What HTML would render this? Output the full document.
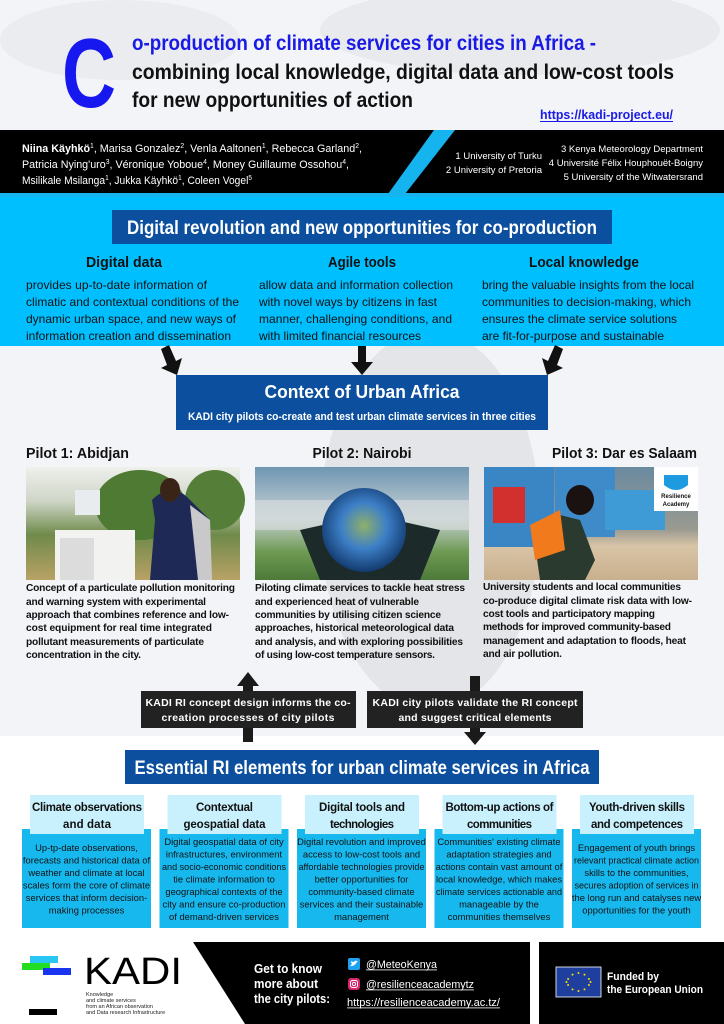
<!DOCTYPE html>
<html><head><meta charset="utf-8"><style>
html,body{margin:0;padding:0;background:#fff}
svg{display:block}
text{font-family:"Liberation Sans",sans-serif}
.h{font-weight:bold}
</style></head><body>
<svg width="724" height="1024" viewBox="0 0 724 1024" xmlns="http://www.w3.org/2000/svg">
<defs>
<linearGradient id="p1" x1="0" y1="0" x2="0" y2="1"><stop offset="0" stop-color="#eef0ec"/><stop offset="0.3" stop-color="#cfd6c8"/><stop offset="0.6" stop-color="#6f8a4a"/><stop offset="1" stop-color="#b9a266"/></linearGradient>
<linearGradient id="p2" x1="0" y1="0" x2="0" y2="1"><stop offset="0" stop-color="#6f96b2"/><stop offset="0.45" stop-color="#c8d2d4"/><stop offset="0.75" stop-color="#6e9a54"/><stop offset="1" stop-color="#4e7a3a"/></linearGradient>
<linearGradient id="p3" x1="0" y1="0" x2="0" y2="1"><stop offset="0" stop-color="#6a8aa0"/><stop offset="0.55" stop-color="#9a9a90"/><stop offset="0.7" stop-color="#d8c4a6"/><stop offset="1" stop-color="#c9b08e"/></linearGradient>
<radialGradient id="ball" cx="0.5" cy="0.45" r="0.55"><stop offset="0" stop-color="#8fb06a"/><stop offset="0.5" stop-color="#3d7fc7"/><stop offset="1" stop-color="#123a6e"/></radialGradient>
</defs>

<!-- background -->
<rect x="0" y="0" width="724" height="736" fill="#f3f4f7"/>
<ellipse cx="120" cy="40" rx="120" ry="40" fill="#ebecef"/>
<ellipse cx="520" cy="30" rx="200" ry="45" fill="#e9eaed"/>
<ellipse cx="430" cy="520" rx="110" ry="190" fill="#e4e5e8"/>
<rect x="0" y="736" width="724" height="288" fill="#fff"/>

<!-- Header -->
<text x="62" y="107" font-size="98" class="h" fill="#1717f0" textLength="54" lengthAdjust="spacingAndGlyphs">C</text>
<text x="132" y="50" font-size="21" class="h" fill="#1a1ae6" textLength="464" lengthAdjust="spacingAndGlyphs">o-production of climate services for cities in Africa -</text>
<text x="132" y="79" font-size="21" class="h" fill="#111" textLength="542" lengthAdjust="spacingAndGlyphs">combining local knowledge, digital data and low-cost tools</text>
<text x="132" y="107" font-size="21" class="h" fill="#111" textLength="281" lengthAdjust="spacingAndGlyphs">for new opportunities of action</text>
<text x="540" y="119" font-size="13" class="h" fill="#1a1ae6" textLength="133" lengthAdjust="spacingAndGlyphs">https://kadi-project.eu/</text>
<rect x="540" y="121" width="133" height="1" fill="#1a1ae6"/>

<!-- Authors band -->
<rect x="0" y="130" width="724" height="64" fill="#000"/>
<polygon points="434,130 455,130 405,194 388,194" fill="#16b4ef"/>
<rect x="0" y="193" width="724" height="4" fill="#16b4ef"/>
<text x="22" y="152" font-size="11" fill="#fff" textLength="340" lengthAdjust="spacingAndGlyphs"><tspan font-weight="bold">Niina Käyhkö</tspan><tspan font-size="7" dy="-4">1</tspan><tspan dy="4">, Marisa Gonzalez</tspan><tspan font-size="7" dy="-4">2</tspan><tspan dy="4">, Venla Aaltonen</tspan><tspan font-size="7" dy="-4">1</tspan><tspan dy="4">, Rebecca Garland</tspan><tspan font-size="7" dy="-4">2</tspan><tspan dy="4">,</tspan></text>
<text x="22" y="168" font-size="11" fill="#fff" textLength="327" lengthAdjust="spacingAndGlyphs">Patricia Nying'uro<tspan font-size="7" dy="-4">3</tspan><tspan dy="4">, Véronique Yoboue</tspan><tspan font-size="7" dy="-4">4</tspan><tspan dy="4">, Money Guillaume Ossohou</tspan><tspan font-size="7" dy="-4">4</tspan><tspan dy="4">,</tspan></text>
<text x="22" y="184" font-size="11" fill="#fff" textLength="230" lengthAdjust="spacingAndGlyphs">Msilikale Msilanga<tspan font-size="7" dy="-4">1</tspan><tspan dy="4">, Jukka Käyhkö</tspan><tspan font-size="7" dy="-4">1</tspan><tspan dy="4">, Coleen Vogel</tspan><tspan font-size="7" dy="-4">5</tspan></text>
<g font-size="9.5" fill="#fff" text-anchor="end">
<text x="542" y="159">1 University of Turku</text>
<text x="542" y="173">2 University of Pretoria</text>
<text x="703" y="152">3 Kenya Meteorology Department</text>
<text x="703" y="166">4 Université Félix Houphouët-Boigny</text>
<text x="703" y="180">5 University of the Witwatersrand</text>
</g>

<!-- Cyan section -->
<rect x="0" y="197" width="724" height="149" fill="#00bfff"/>
<rect x="112" y="210" width="500" height="34" fill="#0b4f9e"/>
<text x="362" y="234" font-size="19" class="h" fill="#fff" text-anchor="middle" textLength="470" lengthAdjust="spacingAndGlyphs">Digital revolution and new opportunities for co-production</text>
<g font-size="15" class="h" fill="#111" text-anchor="middle">
<text x="124" y="267" textLength="76" lengthAdjust="spacingAndGlyphs">Digital data</text>
<text x="362" y="267" textLength="68" lengthAdjust="spacingAndGlyphs">Agile tools</text>
<text x="584" y="267" textLength="110" lengthAdjust="spacingAndGlyphs">Local knowledge</text>
</g>
<g font-size="12" fill="#111" lengthAdjust="spacingAndGlyphs">
<text x="26" y="289" textLength="181">provides up-to-date information of</text>
<text x="26" y="306" textLength="213">climatic and contextual conditions of the</text>
<text x="26" y="323" textLength="210">dynamic urban space, and new ways of</text>
<text x="26" y="340" textLength="205">information creation and dissemination</text>
<text x="259" y="289" textLength="194">allow data and information collection</text>
<text x="259" y="306" textLength="178">with novel ways by citizens in fast</text>
<text x="259" y="323" textLength="193">manner, challenging conditions, and</text>
<text x="259" y="340" textLength="162">with limited financial resources</text>
<text x="482" y="289" textLength="212">bring the valuable insights from the local</text>
<text x="482" y="306" textLength="209">communities to decision-making, which</text>
<text x="482" y="323" textLength="195">ensures the climate service solutions</text>
<text x="482" y="340" textLength="182">are fit-for-purpose and sustainable</text>
</g>

<!-- arrows to context -->
<g fill="#111">
<polygon points="161,349 169,345 176,361 182,358 177,375 161,368 167,365"/>
<polygon points="358,346 366,346 366,362 373,362 362,375 351,362 358,362"/>
<polygon points="555,345 563,349 557,365 563,368 547,375 542,358 548,361"/>
</g>
<rect x="176" y="375" width="372" height="55" fill="#0b4f9e"/>
<text x="362" y="398" font-size="18" class="h" fill="#fff" text-anchor="middle" textLength="195" lengthAdjust="spacingAndGlyphs">Context of Urban Africa</text>
<text x="362" y="420" font-size="11" class="h" fill="#fff" text-anchor="middle" textLength="348" lengthAdjust="spacingAndGlyphs">KADI city pilots co-create and test urban climate services in three cities</text>

<!-- Pilots -->
<g font-size="15" class="h" fill="#111">
<text x="26" y="458" textLength="103" lengthAdjust="spacingAndGlyphs">Pilot 1: Abidjan</text>
<text x="362" y="458" text-anchor="middle" textLength="99" lengthAdjust="spacingAndGlyphs">Pilot 2: Nairobi</text>
<text x="697" y="458" text-anchor="end" textLength="145" lengthAdjust="spacingAndGlyphs">Pilot 3: Dar es Salaam</text>
</g>
<!-- photo 1 -->
<rect x="26" y="467" width="214" height="113" fill="url(#p1)"/>
<ellipse cx="140" cy="505" rx="45" ry="35" fill="#4f7a34"/>
<ellipse cx="215" cy="500" rx="30" ry="30" fill="#557f38"/>
<rect x="75" y="490" width="25" height="25" fill="#e8ecee"/>
<rect x="55" y="530" width="80" height="50" fill="#f2f2f0"/>
<rect x="60" y="538" width="34" height="42" fill="#dcdcdc"/>
<path d="M152 500 Q172 480 190 500 L210 520 L205 580 L150 580 L155 520 Z" fill="#1e2a55"/>
<path d="M190 505 L210 520 L212 580 L198 580 Z" fill="#c9c9cc"/>
<ellipse cx="170" cy="490" rx="10" ry="12" fill="#3a2418"/>
<!-- photo 2 -->
<rect x="255" y="467" width="214" height="113" fill="url(#p2)"/>
<rect x="255" y="500" width="214" height="30" fill="#d6dcdd" opacity="0.7"/>
<path d="M300 530 L345 520 L395 520 L440 530 L420 580 L320 580 Z" fill="#1d2a2a"/>
<circle cx="364" cy="530" r="42" fill="url(#ball)"/>
<!-- photo 3 -->
<rect x="484" y="467" width="214" height="113" fill="url(#p3)"/>
<rect x="484" y="467" width="70" height="80" fill="#3a86c4"/>
<rect x="493" y="487" width="32" height="36" fill="#d2302e"/>
<rect x="555" y="467" width="60" height="70" fill="#3f8ac8"/>
<rect x="605" y="490" width="60" height="40" fill="#3e9bd6"/>
<path d="M535 545 L560 515 L580 520 L595 560 L585 580 L540 580 Z" fill="#2b3a2e"/>
<path d="M530 525 L560 510 L565 550 L535 560 Z" fill="#f07a1c"/>
<ellipse cx="580" cy="500" rx="14" ry="15" fill="#1a1210"/>
<rect x="654" y="467" width="44" height="44" fill="#fff"/>
<path d="M664 475 h24 v10 q-12 10 -24 0 Z" fill="#1e9ae0"/>
<text x="676" y="498" font-size="6" class="h" fill="#111" text-anchor="middle">Resilience</text>
<text x="676" y="506" font-size="6" class="h" fill="#111" text-anchor="middle">Academy</text>

<g font-size="10.2" class="h" fill="#111" lengthAdjust="spacingAndGlyphs">
<text x="26" y="591" textLength="209">Concept of a particulate pollution monitoring</text>
<text x="26" y="605" textLength="180">and warning system with experimental</text>
<text x="26" y="618" textLength="203">approach that combines reference and low-</text>
<text x="26" y="631" textLength="186">cost equipment for real time integrated</text>
<text x="26" y="645" textLength="178">pollutant measurements of particulate</text>
<text x="26" y="658" textLength="115">concentration in the city.</text>
<text x="255" y="591" textLength="210">Piloting climate services to tackle heat stress</text>
<text x="255" y="605" textLength="164">and experienced heat of vulnerable</text>
<text x="255" y="618" textLength="186">communities by utilising citizen science</text>
<text x="255" y="631" textLength="199">approaches, historical meteorological data</text>
<text x="255" y="645" textLength="208">and analysis, and with exploring possibilities</text>
<text x="255" y="658" textLength="180">of using low-cost temperature sensors.</text>
<text x="483" y="590" textLength="198">University students and local communities</text>
<text x="483" y="604" textLength="209">co-produce digital climate risk data with low-</text>
<text x="483" y="617" textLength="172">cost tools and participatory mapping</text>
<text x="483" y="630" textLength="188">methods for improved community-based</text>
<text x="483" y="644" textLength="203">management and adaptation to floods, heat</text>
<text x="483" y="657" textLength="79">and air pollution.</text>
</g>

<!-- Feedback arrows -->
<g fill="#1a1a1a">
<rect x="243" y="684" width="10" height="58"/>
<polygon points="237,686 248,672 259,686"/>
<rect x="470" y="676" width="10" height="58"/>
<polygon points="464,732 486,732 475,745"/>
</g>
<rect x="141" y="691" width="215" height="37" fill="#222"/>
<rect x="367" y="691" width="216" height="37" fill="#222"/>
<g font-size="10.5" class="h" fill="#fff" text-anchor="middle" lengthAdjust="spacingAndGlyphs">
<text x="248" y="706" textLength="205">KADI RI concept design informs the co-</text>
<text x="248" y="721" textLength="173">creation processes of city pilots</text>
<text x="475" y="706" textLength="205">KADI city pilots validate the RI concept</text>
<text x="475" y="721" textLength="153">and suggest critical elements</text>
</g>

<!-- Essential -->
<rect x="125" y="750" width="474" height="34" fill="#0b4f9e"/>
<text x="362" y="774" font-size="19" class="h" fill="#fff" text-anchor="middle" textLength="455" lengthAdjust="spacingAndGlyphs">Essential RI elements for urban climate services in Africa</text>

<g>
<rect x="22" y="829" width="129" height="99" fill="#17b8ee"/>
<rect x="159.5" y="829" width="129" height="99" fill="#17b8ee"/>
<rect x="297" y="829" width="129" height="99" fill="#17b8ee"/>
<rect x="434.5" y="829" width="129" height="99" fill="#17b8ee"/>
<rect x="572" y="829" width="129" height="99" fill="#17b8ee"/>
<rect x="30" y="795" width="114" height="39" fill="#c9f1fd"/>
<rect x="167.5" y="795" width="114" height="39" fill="#c9f1fd"/>
<rect x="305" y="795" width="114" height="39" fill="#c9f1fd"/>
<rect x="442.5" y="795" width="114" height="39" fill="#c9f1fd"/>
<rect x="580" y="795" width="114" height="39" fill="#c9f1fd"/>
</g>
<g font-size="11.5" class="h" fill="#111" text-anchor="middle" lengthAdjust="spacingAndGlyphs">
<text x="87" y="811" textLength="110">Climate observations</text>
<text x="87" y="828" textLength="48">and data</text>
<text x="224.5" y="811" textLength="57">Contextual</text>
<text x="224.5" y="828" textLength="82">geospatial data</text>
<text x="362" y="811" textLength="86">Digital tools and</text>
<text x="362" y="828" textLength="64">technologies</text>
<text x="499.5" y="811" textLength="108">Bottom-up actions of</text>
<text x="499.5" y="828" textLength="65">communities</text>
<text x="637" y="811" textLength="96">Youth-driven skills</text>
<text x="637" y="828" textLength="92">and competences</text>
</g>
<g font-size="9.4" fill="#111" text-anchor="middle">
<text x="86.5" y="851">Up-tp-date observations,</text>
<text x="86.5" y="863.5">forecasts and historical data of</text>
<text x="86.5" y="876">weather and climate at local</text>
<text x="86.5" y="888.5">scales form the core of climate</text>
<text x="86.5" y="901">services that inform decision-</text>
<text x="86.5" y="913.5">making processes</text>

<text x="224" y="845">Digital geospatial data of city</text>
<text x="224" y="857.5">infrastructures, environment</text>
<text x="224" y="870" textLength="124" lengthAdjust="spacingAndGlyphs">and socio-economic conditions</text>
<text x="224" y="882.5">tie climate information to</text>
<text x="224" y="895">geographical contexts of the</text>
<text x="224" y="907.5">city and ensure co-production</text>
<text x="224" y="920">of demand-driven services</text>

<text x="361.5" y="845">Digital revolution and improved</text>
<text x="361.5" y="857.5">access to low-cost tools and</text>
<text x="361.5" y="870" textLength="126" lengthAdjust="spacingAndGlyphs">affordable technologies provide</text>
<text x="361.5" y="882.5">better opportunities for</text>
<text x="361.5" y="895">community-based climate</text>
<text x="361.5" y="907.5">services and their sustainable</text>
<text x="361.5" y="920">management</text>

<text x="499" y="845">Communities' existing climate</text>
<text x="499" y="857.5">adaptation strategies and</text>
<text x="499" y="870">actions contain vast amount of</text>
<text x="499" y="882.5">local knowledge, which makes</text>
<text x="499" y="895" textLength="126" lengthAdjust="spacingAndGlyphs">climate services actionable and</text>
<text x="499" y="907.5">manageable by the</text>
<text x="499" y="920">communities themselves</text>

<text x="636.5" y="851">Engagement of youth brings</text>
<text x="636.5" y="863.5" textLength="125" lengthAdjust="spacingAndGlyphs">relevant practical climate action</text>
<text x="636.5" y="876">skills to the communities,</text>
<text x="636.5" y="888.5" textLength="124" lengthAdjust="spacingAndGlyphs">secures adoption of services in</text>
<text x="636.5" y="901">the long run and catalyses new</text>
<text x="636.5" y="913.5">opportunities for the youth</text>
</g>

<!-- Footer -->
<rect x="30" y="956" width="28" height="7" fill="#29c6f4"/>
<rect x="22" y="963" width="28" height="7" fill="#22dd22"/>
<rect x="43" y="968" width="28" height="7" fill="#1a33ee"/>
<rect x="29" y="1009" width="28" height="6" fill="#000"/>
<text x="84" y="984" font-size="38" fill="#000" textLength="98" lengthAdjust="spacingAndGlyphs">KADI</text>
<g font-size="5.5" fill="#222">
<text x="86" y="996">Knowledge</text>
<text x="86" y="1002">and climate services</text>
<text x="86" y="1008">from an African observation</text>
<text x="86" y="1014">and Data research Infrastructure</text>
</g>
<polygon points="193,942 530,942 530,1024 245,1024" fill="#000"/>
<rect x="539" y="942" width="185" height="82" fill="#000"/>
<g font-size="13" class="h" fill="#fff">
<text x="254" y="973" textLength="68" lengthAdjust="spacingAndGlyphs">Get to know</text>
<text x="254" y="988" textLength="64" lengthAdjust="spacingAndGlyphs">more about</text>
<text x="254" y="1003" textLength="76" lengthAdjust="spacingAndGlyphs">the city pilots:</text>
</g>
<rect x="348" y="958" width="12" height="12" rx="2" fill="#1da1f2"/>
<path d="M350 966 q4 1 7 -4 l1 -1 -1 0 q-2 -1 -3 1 q-2 0 -3 -1 q0 2 1 3 q-1 1 -2 2 Z" fill="#fff"/>
<rect x="348" y="978" width="12" height="12" rx="3" fill="#d6246e"/>
<rect x="350.5" y="980.5" width="7" height="7" rx="2" fill="none" stroke="#fff" stroke-width="1"/>
<circle cx="354" cy="984" r="1.6" fill="none" stroke="#fff" stroke-width="0.9"/>
<g font-size="11" fill="#fff">
<text x="366" y="968" textLength="71" lengthAdjust="spacingAndGlyphs">@MeteoKenya</text>
<text x="366" y="988" textLength="108" lengthAdjust="spacingAndGlyphs">@resilienceacademytz</text>
<text x="347" y="1006" textLength="153" lengthAdjust="spacingAndGlyphs">https://resilienceacademy.ac.tz/</text>
</g>
<rect x="366" y="969.5" width="71" height="0.8" fill="#fff"/>
<rect x="366" y="989.5" width="108" height="0.8" fill="#fff"/>
<rect x="347" y="1007.5" width="153" height="0.8" fill="#fff"/>
<rect x="556" y="967" width="45" height="30" fill="#1f3f9f" stroke="#fff" stroke-width="0.8"/>
<g fill="#ffdd00">
<circle cx="578.5" cy="973" r="1"/><circle cx="584.5" cy="974.6" r="1"/><circle cx="588.9" cy="979" r="1"/><circle cx="590.5" cy="982" r="1"/><circle cx="588.9" cy="985" r="1"/><circle cx="584.5" cy="989.4" r="1"/><circle cx="578.5" cy="991" r="1"/><circle cx="572.5" cy="989.4" r="1"/><circle cx="568.1" cy="985" r="1"/><circle cx="566.5" cy="982" r="1"/><circle cx="568.1" cy="979" r="1"/><circle cx="572.5" cy="974.6" r="1"/>
</g>
<text x="607" y="980" font-size="11" class="h" fill="#fff" textLength="52" lengthAdjust="spacingAndGlyphs">Funded by</text>
<text x="607" y="993" font-size="11" class="h" fill="#fff" textLength="96" lengthAdjust="spacingAndGlyphs">the European Union</text>
</svg>
</body></html>
